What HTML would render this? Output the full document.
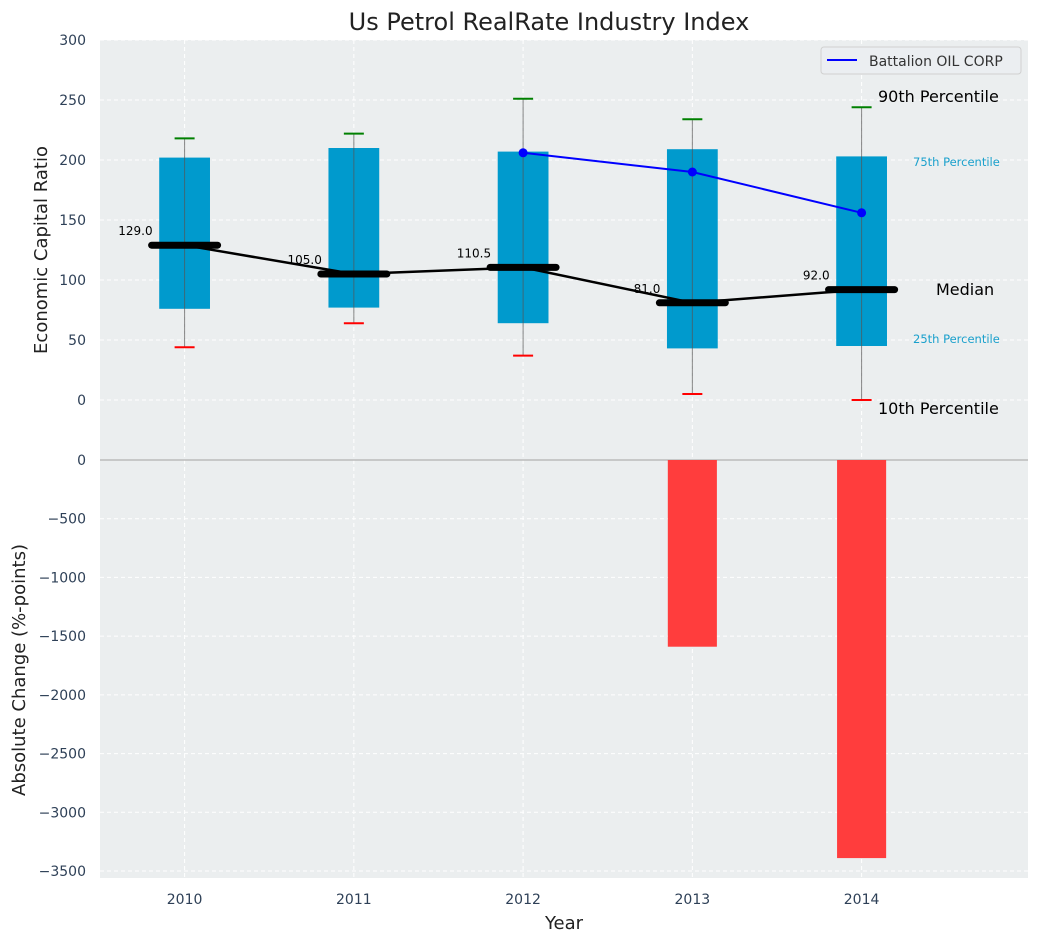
<!DOCTYPE html>
<html><head><meta charset="utf-8"><style>
body{margin:0;background:#fff;}
svg text{font-family:"DejaVu Sans","Liberation Sans",sans-serif;}
</style></head><body>
<svg id="c" width="1039" height="942" xmlns="http://www.w3.org/2000/svg"></svg>
<script>
const years=[2010,2011,2012,2013,2014];
const p10=[44,64,37,5,0];
const q25=[76,77,64,43,45];
const medians=[129,105,110.5,81,92];
const q75=[202,210,207,209,203];
const p90=[218,222,251,234,244];
const companyYears=[2012,2013,2014];
const companyVals=[206,190,156];
const changeYears=[2013,2014];
const changeVals=[-1590,-3390];
const topTicks=[0,50,100,150,200,250,300];
const botTicks=[0,-500,-1000,-1500,-2000,-2500,-3000,-3500];

const NS="http://www.w3.org/2000/svg";
const svg=document.getElementById('c');
function el(t,a,p){const e=document.createElementNS(NS,t);for(const k in a)e.setAttribute(k,a[k]);(p||svg).appendChild(e);return e;}
const X0=100,X1=1028;
const xs=v=>184.6+(v-2010)*169.25;
const yt=v=>400-v*1.2;
const yb=v=>460-v*0.11743;
const TT=40,TB=458,BT=458,BB=878;

let r=el('rect',{x:X0,y:TT,width:X1-X0,height:TB-TT,fill:'#ebeeef'});

r=el('rect',{x:X0,y:BT,width:X1-X0,height:BB-BT,fill:'#ebeeef'});


years.forEach(y=>{
  let g=el('line',{x1:xs(y),x2:xs(y),y1:TT,y2:BB,stroke:'#fff','stroke-dasharray':'4,3','stroke-width':1});
  
  let t=el('text',{x:xs(y),y:904,'text-anchor':'middle','font-size':14,fill:'#2e4057'});t.textContent=y;
  
});
topTicks.forEach(v=>{
  let g=el('line',{x1:X0,x2:X1,y1:yt(v),y2:yt(v),stroke:'#fff','stroke-dasharray':'4,3'});
  
  let t=el('text',{x:86,y:yt(v)+5,'text-anchor':'end','font-size':14,fill:'#2e4057'});t.textContent=v;
  
});
botTicks.forEach(v=>{
  let g=el('line',{x1:X0,x2:X1,y1:yb(v),y2:yb(v),stroke:v===0?'#bbb':'#fff','stroke-dasharray':v===0?'':'4,3','stroke-width':v===0?1.5:1});
  
  let t=el('text',{x:86,y:yb(v)+5,'text-anchor':'end','font-size':14,fill:'#2e4057'});t.textContent=v<0?'\u2212'+(-v):v;
  
});

const bw=0.3*169.25;
years.forEach((y,i)=>{
  const cx=xs(y);
  let b=el('rect',{x:cx-bw/2,y:yt(q75[i]),width:bw,height:yt(q25[i])-yt(q75[i]),fill:'#009acd'});
  
  let w=el('line',{x1:cx,x2:cx,y1:yt(p90[i]),y2:yt(p10[i]),stroke:'#555','stroke-width':1,opacity:0.7});
  
  let h=el('line',{x1:cx-10,x2:cx+10,y1:yt(p90[i]),y2:yt(p90[i]),stroke:'green','stroke-width':2});
  
  let l=el('line',{x1:cx-10,x2:cx+10,y1:yt(p10[i]),y2:yt(p10[i]),stroke:'red','stroke-width':2});
  
});
let pts=years.map((y,i)=>xs(y)+','+yt(medians[i])).join(' ');
let ml=el('polyline',{points:pts,fill:'none',stroke:'#000','stroke-width':2.5});

years.forEach((y,i)=>{
  const cx=xs(y);
  let m=el('line',{x1:cx-33,x2:cx+33,y1:yt(medians[i]),y2:yt(medians[i]),stroke:'#000','stroke-width':7,'stroke-linecap':'round'});
  
  let t=el('text',{x:cx-32,y:yt(medians[i])-10,'text-anchor':'end','font-size':12,fill:'#000'});t.textContent=medians[i].toFixed(1);
  
});
let cp=el('polyline',{points:companyYears.map((y,i)=>xs(y)+','+yt(companyVals[i])).join(' '),fill:'none',stroke:'#0000ff','stroke-width':2});

companyYears.forEach((y,i)=>{
  let c=el('circle',{cx:xs(y),cy:yt(companyVals[i]),r:4.5,fill:'#0000ff'});
  
});
const cw=0.29*169.25;
changeYears.forEach((y,i)=>{
  let b=el('rect',{x:xs(y)-cw/2,y:yb(0),width:cw,height:yb(changeVals[i])-yb(0),fill:'#ff3d3d'});
  
});
const ann=[['90th Percentile',878,102,16,'#000','p90-annotation'],['10th Percentile',878,414,16,'#000','p10-annotation'],['Median',936,295,16,'#000','median-annotation'],['75th Percentile',913,166,11.5,'#1aa0cc','p75-annotation'],['25th Percentile',913,343,11.5,'#1aa0cc','p25-annotation']];
ann.forEach(a=>{let t=el('text',{x:a[1],y:a[2],'font-size':a[3],fill:a[4]});t.textContent=a[0];
  });
let lg=el('g',{});
el('rect',{x:821,y:47,width:200,height:27,rx:3,fill:'#ebeef1',stroke:'#d0d0d0'},lg);
el('line',{x1:827,x2:857,y1:60,y2:60,stroke:'#0000ff','stroke-width':2},lg);
let lt=el('text',{x:869,y:66,'font-size':14,fill:'#333'},lg);lt.textContent='Battalion OIL CORP';

let t=el('text',{x:549,y:30,'text-anchor':'middle','font-size':24,fill:'#222'});t.textContent='Us Petrol RealRate Industry Index';

t=el('text',{x:564,y:929,'text-anchor':'middle','font-size':18,fill:'#222'});t.textContent='Year';

t=el('text',{x:0,y:0,'text-anchor':'middle','font-size':18,fill:'#222',transform:'translate(47,250) rotate(-90)'});t.textContent='Economic Capital Ratio';

t=el('text',{x:0,y:0,'text-anchor':'middle','font-size':18,fill:'#222',transform:'translate(25,670) rotate(-90)'});t.textContent='Absolute Change (%-points)';

</script>
</body></html>
